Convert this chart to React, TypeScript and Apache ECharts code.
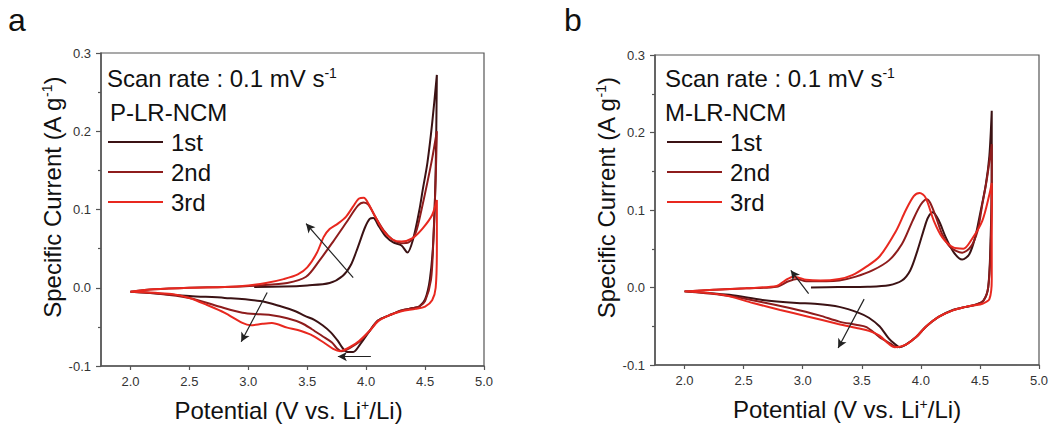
import { useEffect, useRef } from "react";
import * as echarts from "echarts";

const xTicks = [2.0, 2.5, 3.0, 3.5, 4.0, 4.5, 5.0];
const cycleNames = ["1st", "2nd", "3rd"];
const cycleColors = ["#3b1214", "#8e1c1c", "#e8281f"];
const panelLabels = ["a", "b"];
const sampleNames = ["P-LR-NCM", "M-LR-NCM"];

// Panel a: P-LR-NCM  [potential V, current A/g]
const pCycle1 = [
  [3.05, 0.001], [3.3, 0.0015], [3.5, 0.003], [3.69, 0.006], [3.8, 0.015], [3.87, 0.029], [3.93, 0.052],
  [3.99, 0.077], [4.03, 0.088], [4.06, 0.089], [4.11, 0.078], [4.17, 0.065], [4.23, 0.058], [4.3, 0.054],
  [4.35, 0.045], [4.4, 0.063], [4.45, 0.098], [4.48, 0.125], [4.52, 0.16], [4.56, 0.21], [4.6, 0.272],
  [4.59, 0.15], [4.57, 0.06], [4.54, 0.01], [4.5, -0.015], [4.45, -0.024], [4.4, -0.026], [4.3, -0.029],
  [4.2, -0.035], [4.1, -0.042], [4.03, -0.055], [3.95, -0.072], [3.89, -0.082], [3.84, -0.082], [3.8, -0.077],
  [3.76, -0.068], [3.7, -0.057], [3.63, -0.048], [3.56, -0.041], [3.48, -0.036], [3.4, -0.03], [3.28, -0.024],
  [3.1, -0.017], [2.8, -0.013], [2.5, -0.0105], [2.2, -0.007], [2.0, -0.005],
];
const pCycle2 = [
  [2.0, -0.005], [2.2, -0.002], [2.5, 0.0], [2.8, 0.001], [3.1, 0.003], [3.33, 0.006], [3.49, 0.014],
  [3.6, 0.034], [3.72, 0.059], [3.83, 0.083], [3.93, 0.105], [3.98, 0.109], [4.02, 0.106], [4.08, 0.09],
  [4.15, 0.073], [4.22, 0.062], [4.3, 0.057], [4.36, 0.058], [4.42, 0.07], [4.47, 0.1], [4.52, 0.135],
  [4.56, 0.165], [4.6, 0.2], [4.59, 0.14], [4.57, 0.06], [4.55, 0.01], [4.5, -0.017], [4.45, -0.024],
  [4.4, -0.026], [4.3, -0.029], [4.2, -0.035], [4.1, -0.042], [4.03, -0.055], [3.95, -0.068], [3.86, -0.077],
  [3.79, -0.081], [3.75, -0.077], [3.71, -0.07], [3.63, -0.062], [3.54, -0.053], [3.45, -0.045], [3.33, -0.039],
  [3.2, -0.035], [3.1, -0.034], [2.95, -0.032], [2.75, -0.024], [2.5, -0.013], [2.2, -0.007], [2.0, -0.005],
];
const pCycle3 = [
  [2.0, -0.005], [2.2, -0.002], [2.5, 0.0], [2.8, 0.001], [3.0, 0.003], [3.15, 0.006], [3.3, 0.011],
  [3.42, 0.017], [3.5, 0.026], [3.58, 0.044], [3.64, 0.065], [3.69, 0.075], [3.76, 0.082], [3.83, 0.091],
  [3.89, 0.104], [3.94, 0.114], [3.98, 0.115], [4.01, 0.11], [4.07, 0.093], [4.14, 0.074], [4.22, 0.062],
  [4.3, 0.059], [4.39, 0.063], [4.48, 0.076], [4.56, 0.093], [4.6, 0.112], [4.6, 0.05], [4.59, 0.0],
  [4.56, -0.016], [4.5, -0.024], [4.42, -0.027], [4.3, -0.03], [4.2, -0.035], [4.1, -0.043], [4.03, -0.055],
  [3.94, -0.068], [3.86, -0.076], [3.78, -0.081], [3.72, -0.078], [3.64, -0.07], [3.53, -0.06], [3.42, -0.054],
  [3.33, -0.051], [3.2, -0.045], [3.12, -0.046], [3.02, -0.048], [2.95, -0.045], [2.8, -0.032], [2.65, -0.022],
  [2.5, -0.013], [2.35, -0.008], [2.0, -0.005],
];

// Panel b: M-LR-NCM
const mCycle1 = [
  [3.07, 0.0], [3.3, 0.0005], [3.55, 0.001], [3.73, 0.003], [3.84, 0.009], [3.91, 0.022], [3.97, 0.047],
  [4.03, 0.077], [4.06, 0.09], [4.1, 0.097], [4.15, 0.087], [4.21, 0.065], [4.28, 0.045], [4.35, 0.036],
  [4.41, 0.043], [4.46, 0.065], [4.5, 0.094], [4.55, 0.133], [4.58, 0.17], [4.6, 0.228], [4.6, 0.15],
  [4.59, 0.06], [4.57, 0.0], [4.53, -0.017], [4.47, -0.022], [4.38, -0.025], [4.27, -0.029], [4.15, -0.038],
  [4.04, -0.051], [3.96, -0.064], [3.87, -0.074], [3.82, -0.077], [3.78, -0.073], [3.73, -0.066], [3.65, -0.05],
  [3.56, -0.039], [3.48, -0.033], [3.31, -0.025], [3.1, -0.021], [2.95, -0.02], [2.66, -0.016], [2.38, -0.0094],
  [2.0, -0.005],
];
const mCycle2 = [
  [2.0, -0.005], [2.25, -0.003], [2.52, -0.001], [2.78, 0.001], [2.88, 0.008], [2.95, 0.011], [3.03, 0.008],
  [3.2, 0.008], [3.31, 0.009], [3.45, 0.014], [3.59, 0.022], [3.73, 0.035], [3.84, 0.056], [3.93, 0.086],
  [4.0, 0.107], [4.05, 0.114], [4.08, 0.109], [4.13, 0.09], [4.18, 0.069], [4.25, 0.052], [4.35, 0.045],
  [4.42, 0.052], [4.48, 0.073], [4.52, 0.107], [4.56, 0.141], [4.6, 0.185], [4.6, 0.12], [4.59, 0.05],
  [4.57, 0.0], [4.53, -0.017], [4.47, -0.022], [4.38, -0.025], [4.27, -0.0295], [4.15, -0.038], [4.04, -0.051],
  [3.96, -0.064], [3.87, -0.074], [3.8, -0.077], [3.74, -0.072], [3.65, -0.064], [3.54, -0.051], [3.45, -0.048],
  [3.31, -0.044], [3.14, -0.036], [2.89, -0.0265], [2.66, -0.019], [2.38, -0.011], [2.0, -0.005],
];
const mCycle3 = [
  [2.0, -0.005], [2.25, -0.003], [2.52, -0.001], [2.78, 0.002], [2.85, 0.009], [2.92, 0.014], [2.96, 0.013],
  [3.03, 0.01], [3.15, 0.009], [3.31, 0.011], [3.42, 0.016], [3.53, 0.026], [3.65, 0.04], [3.79, 0.073],
  [3.87, 0.099], [3.94, 0.118], [3.99, 0.122], [4.04, 0.116], [4.11, 0.086], [4.18, 0.065], [4.27, 0.052],
  [4.36, 0.05], [4.43, 0.062], [4.52, 0.086], [4.58, 0.12], [4.6, 0.135], [4.6, 0.07], [4.6, 0.01],
  [4.58, -0.015], [4.52, -0.021], [4.45, -0.023], [4.38, -0.025], [4.27, -0.0295], [4.15, -0.038],
  [4.04, -0.051], [3.96, -0.064], [3.87, -0.074], [3.78, -0.077], [3.73, -0.073], [3.65, -0.062],
  [3.56, -0.056], [3.48, -0.053], [3.3, -0.047], [3.03, -0.037], [2.81, -0.029], [2.58, -0.02],
  [2.32, -0.0094], [2.0, -0.005],
];

// Annotation arrows: [tail, head] in data coordinates
const arrowsA = [
  [[3.89, 0.013], [3.49, 0.082]],
  [[3.16, -0.006], [2.94, -0.069]],
  [[4.04, -0.088], [3.76, -0.088]],
];
const arrowsB = [
  [[3.05, -0.008], [2.9, 0.022]],
  [[3.52, -0.015], [3.3, -0.078]],
];

const panelCycles = [
  [pCycle1, pCycle2, pCycle3],
  [mCycle1, mCycle2, mCycle3],
];
const panelArrows = [arrowsA, arrowsB];

const FONT = 'Arial, "Liberation Sans", Helvetica, sans-serif';

const grids = [
  { left: 101, top: 53, width: 383, height: 313 },
  { left: 655, top: 55, width: 384, height: 310 },
];
const labelLeft = [8, 564];
const noteLeft = [107, 665];
const legendLeft = [108, 667];
const xNamePad = [[0, 8, 0, 0], [0, 0, 0, 0]];

export default function App() {
  const ref = useRef<HTMLDivElement>(null);
  useEffect(() => {
    if (!ref.current) return;
    const chart = echarts.init(ref.current, null, { renderer: "svg" });

    const titleRich = {
      t: { fontSize: 24, fontFamily: FONT, color: "#111" },
      s: { fontSize: 14, fontFamily: FONT, color: "#111", verticalAlign: "top" },
    };

    const xAxes = grids.map((_, i) => ({
      type: "value",
      gridIndex: i,
      min: 1.75,
      max: 5.0,
      axisLine: { show: true, onZero: false, lineStyle: { color: "#555", width: 1.5 } },
      axisTick: { show: true, inside: false, length: 4, customValues: xTicks, lineStyle: { color: "#555", width: 1.2 } },
      axisLabel: {
        customValues: xTicks,
        formatter: (v: number) => v.toFixed(1),
        color: "#333",
        fontSize: 13,
        fontFamily: FONT,
        margin: 9,
      },
      splitLine: { show: false },
      name: "{t|Potential (V vs. Li}{s|+}{t|/Li)}",
      nameLocation: "middle",
      nameGap: 32,
      nameTextStyle: { rich: titleRich, padding: xNamePad[i] },
    }));

    const yAxes = grids.map((_, i) => ({
      type: "value",
      gridIndex: i,
      min: -0.1,
      max: 0.3,
      interval: 0.1,
      axisLine: { show: true, onZero: false, lineStyle: { color: "#555", width: 1.5 } },
      axisTick: { show: true, inside: false, length: 5, lineStyle: { color: "#555", width: 1.2 } },
      minorTick: { show: true, splitNumber: 2, length: 3, lineStyle: { color: "#555", width: 1.2 } },
      axisLabel: {
        formatter: (v: number) => v.toFixed(1),
        color: "#333",
        fontSize: 13,
        fontFamily: FONT,
        margin: 10,
      },
      splitLine: { show: false },
      name: "{t|Specific Current (A g}{s|-1}{t|)}",
      nameLocation: "middle",
      nameGap: 37,
      nameRotate: 90,
      nameTextStyle: { rich: titleRich, padding: [0, 0, 0, 24] },
    }));

    const series: any[] = [];
    panelCycles.forEach((cycles, p) => {
      cycles.forEach((data, c) => {
        const s: any = {
          type: "line",
          name: cycleNames[c],
          xAxisIndex: p,
          yAxisIndex: p,
          data,
          showSymbol: false,
          symbol: "none",
          smooth: 0.3,
          lineStyle: { color: cycleColors[c], width: 2 },
          itemStyle: { color: cycleColors[c] },
          emphasis: { disabled: true },
          z: 2 + c,
        };
        if (c === 2) {
          s.markLine = {
            silent: true,
            symbol: ["none", "arrow"],
            symbolSize: [7, 9],
            label: { show: false },
            emphasis: { disabled: true },
            lineStyle: { color: "#222", width: 1.2, type: "solid" },
            data: panelArrows[p].map(([a, b]) => [{ coord: a }, { coord: b }]),
          };
        }
        series.push(s);
      });
    });

    const legends = grids.map((_, i) => ({
      orient: "vertical",
      left: legendLeft[i],
      top: 130,
      data: cycleNames,
      icon: "rect",
      itemWidth: 55,
      itemHeight: 2,
      itemGap: 6,
      selectedMode: false,
      padding: 0,
      textStyle: { fontSize: 24, fontFamily: FONT, color: "#111", padding: [0, 0, 0, 3] },
    }));

    const graphic: any[] = [];
    grids.forEach((_, i) => {
      graphic.push({
        type: "text",
        left: labelLeft[i],
        top: 4,
        style: { text: panelLabels[i], fontSize: 32, fontFamily: FONT, fill: "#111" },
      });
      graphic.push({
        type: "text",
        left: noteLeft[i],
        top: 66,
        style: {
          text: "{t|Scan rate : 0.1 mV s}{s|-1}",
          rich: {
            t: { fontSize: 24, fontFamily: FONT, fill: "#111" },
            s: { fontSize: 14, fontFamily: FONT, fill: "#111", verticalAlign: "top" },
          },
        },
      });
      graphic.push({
        type: "text",
        left: noteLeft[i] + (i === 0 ? 3 : 0),
        top: 100,
        style: { text: sampleNames[i], fontSize: 24, fontFamily: FONT, fill: "#111" },
      });
    });

    chart.setOption({
      animation: false,
      backgroundColor: "#fff",
      grid: grids.map((g) => ({ ...g, show: true, borderColor: "#555", borderWidth: 1.2, backgroundColor: "transparent" })),
      xAxis: xAxes,
      yAxis: yAxes,
      legend: legends,
      series,
      graphic,
    });
    return () => chart.dispose();
  }, []);
  return <div ref={ref} style={{ position: "fixed", left: 0, top: 0, width: 1053, height: 428 }} />;
}
